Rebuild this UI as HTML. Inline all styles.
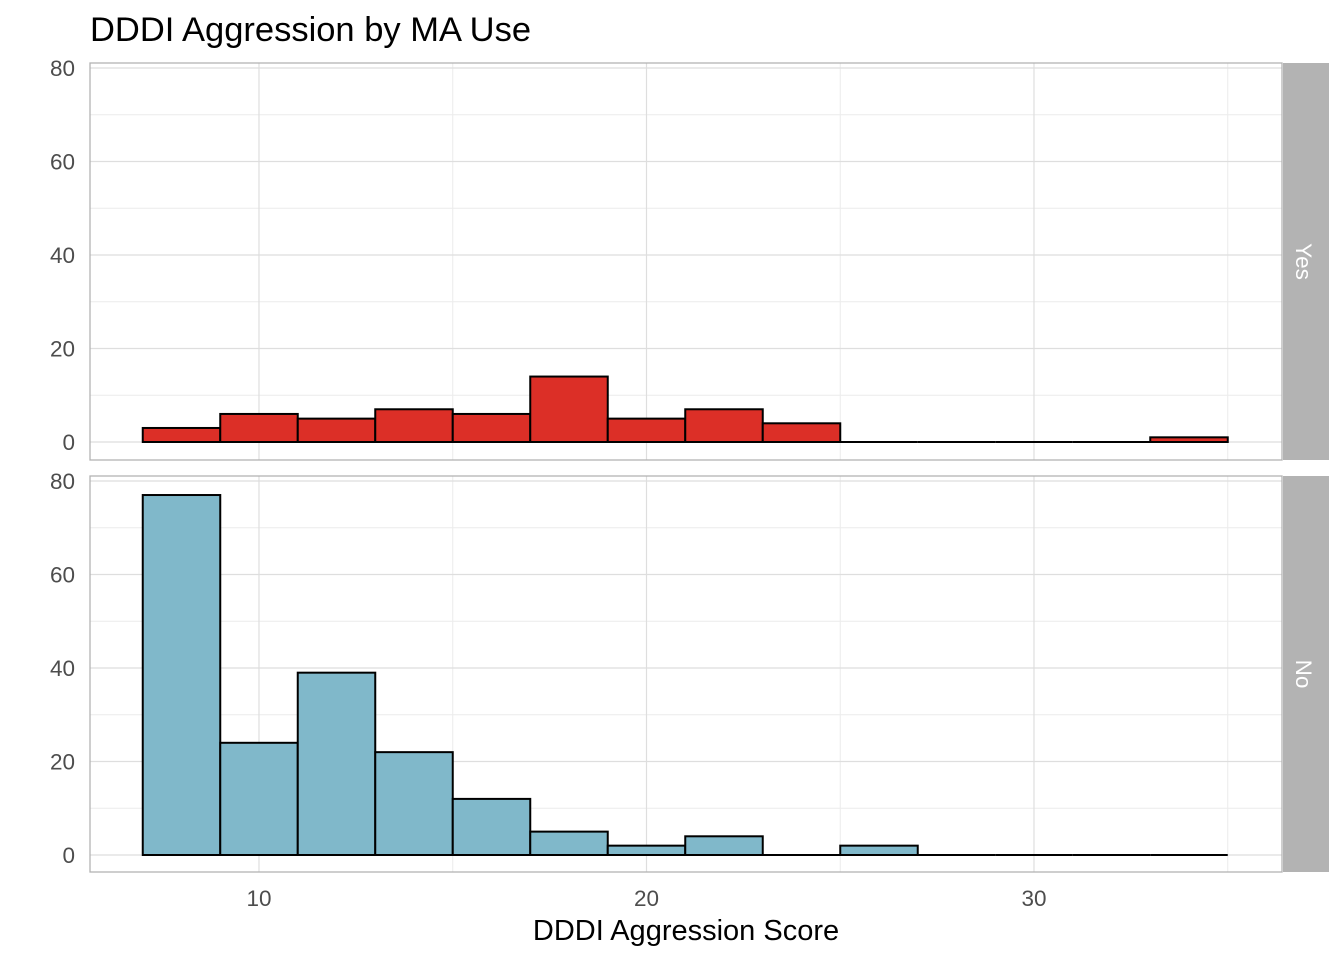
<!DOCTYPE html>
<html><head><meta charset="utf-8"><style>body{margin:0;background:#fff}svg{font-family:"Liberation Sans",sans-serif}</style></head>
<body>
<svg id="c" width="1344" height="960">
<text x="90" y="41" font-size="34.5" fill="#000">DDDI Aggression by MA Use</text>
<text x="686" y="940" font-size="29" text-anchor="middle" fill="#000">DDDI Aggression Score</text>
</svg>
<script>
const binStarts=[7,9,11,13,15,17,19,21,23,25,27,29,31,33];
const binWidth=2;
const yesCounts=[3,6,5,7,6,14,5,7,4,0,0,0,0,1];
const noCounts=[77,24,39,22,12,5,2,4,0,2,0,0,0,0];
const xTicks=[10,20,30];
const yTicks=[0,20,40,60,80];
const panelNames=["Yes","No"];
const NS="http://www.w3.org/2000/svg";
const svg=document.getElementById('c');
function el(t,a,p){const e=document.createElementNS(NS,t);for(const k in a)e.setAttribute(k,a[k]);(p||svg).appendChild(e);return e;}
const X=v=>259+(v-10)*38.75;
const L=90,R=1282;
const panels=[{top:63,bot:460,zero:442,data:yesCounts,fill:"#dc2f27",name:panelNames[0]},{top:476,bot:872,zero:855,data:noCounts,fill:"#80b8ca",name:panelNames[1]}];
panels.forEach((p,pi)=>{
  const Y=v=>p.zero-v*4.675;
  const g=el('g',{});
  
  
  for(let v=10;v<=70;v+=20){el('line',{x1:L,x2:R,y1:Y(v),y2:Y(v),stroke:"#ececec","stroke-width":1},g);}
  for(let v=5;v<=35;v+=10){if(X(v)>L)el('line',{x1:X(v),x2:X(v),y1:p.top,y2:p.bot,stroke:"#ececec","stroke-width":1},g);}
  yTicks.forEach(v=>{el('line',{x1:L,x2:R,y1:Y(v),y2:Y(v),stroke:"#dedede","stroke-width":1.2},g);
    const t=el('text',{x:75,y:Y(v)+8,"font-size":22.5,"text-anchor":"end",fill:"#4d4d4d"},g);t.textContent=v;
    });
  xTicks.forEach(v=>{el('line',{x1:X(v),x2:X(v),y1:p.top,y2:p.bot,stroke:"#dedede","stroke-width":1.2},g);});
  p.data.forEach((c,i)=>{
    const x0=X(binStarts[i]),x1=X(binStarts[i]+binWidth);
    let r;
    if(c===0){r=el('line',{x1:x0,x2:x1,y1:Y(0),y2:Y(0),stroke:"#000","stroke-width":2},g);}
    else r=el('rect',{x:x0,y:Y(c),width:x1-x0,height:Y(0)-Y(c),fill:p.fill,stroke:"#000","stroke-width":2},g);
    
    
  });
  el('rect',{x:L,y:p.top,width:R-L,height:p.bot-p.top,fill:"none",stroke:"#b3b3b3","stroke-width":1.3},g);
  const s=el('rect',{x:1283,y:p.top,width:46,height:p.bot-p.top,fill:"#b3b3b3"},g);
  
  const cy=(p.top+p.bot)/2;
  const st=el('text',{x:1304,y:cy,"font-size":22.5,fill:"#fff","text-anchor":"middle",transform:`rotate(90 1304 ${cy})`,dy:8},g);
  st.textContent=p.name;
});
xTicks.forEach(v=>{
  const t=el('text',{x:X(v),y:906,"font-size":22.5,"text-anchor":"middle",fill:"#4d4d4d"});t.textContent=v;
  
});
</script>
</body></html>
